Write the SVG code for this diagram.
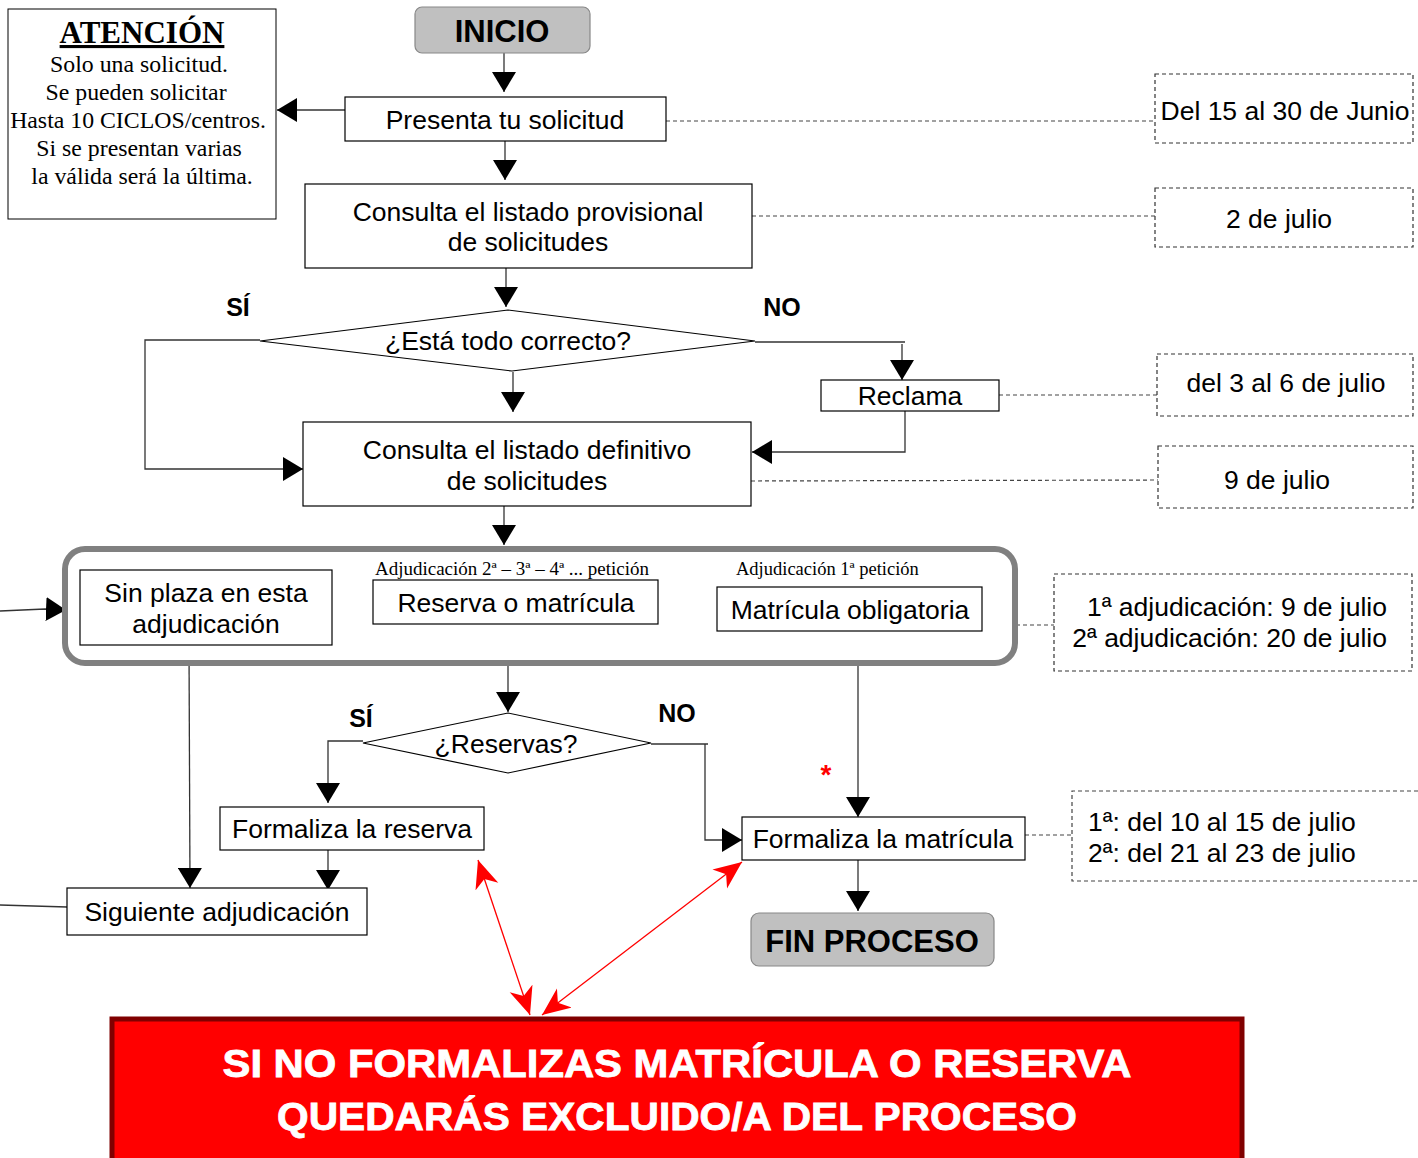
<svg xmlns="http://www.w3.org/2000/svg" width="1418" height="1158" viewBox="0 0 1418 1158">
<style>
.box{fill:#fff;stroke:#000;stroke-width:1.2}
.date{fill:#fff;stroke:#333;stroke-width:1.2;stroke-dasharray:4 3}
.dot{fill:none;stroke:#444;stroke-width:1.2;stroke-dasharray:4 3}
.ln{fill:none;stroke:#333;stroke-width:1.3}
.t{font-family:"Liberation Sans",Arial,sans-serif;font-size:26.5px;fill:#000;text-anchor:middle}
.te{font-family:"Liberation Sans",Arial,sans-serif;font-size:26.5px;fill:#000;text-anchor:end}
.ts{font-family:"Liberation Sans",Arial,sans-serif;font-size:26.5px;fill:#000;text-anchor:start}
.b{font-family:"Liberation Sans",Arial,sans-serif;font-weight:bold;fill:#000;text-anchor:middle}
.s{font-family:"Liberation Serif","Times New Roman",serif;fill:#000}
.red{fill:none;stroke:#ff0000;stroke-width:1.3}
</style>
<defs>
<marker id="ah" markerUnits="userSpaceOnUse" markerWidth="22" markerHeight="24" refX="20" refY="12" orient="auto">
<path d="M0,0 L20,12 L0,24 z" fill="#000"/>
</marker>
<marker id="rh" markerUnits="userSpaceOnUse" markerWidth="30" markerHeight="30" refX="28" refY="12" orient="auto-start-reverse">
<path d="M0,0 L28,12 L0,24 L8,12 z" fill="#ff0000"/>
</marker>
</defs>

<g id="connectors">
<line class="ln" x1="504" y1="53" x2="504" y2="92" marker-end="url(#ah)"/>
<line class="ln" x1="345" y1="110" x2="277" y2="110" marker-end="url(#ah)"/>
<line class="dot" x1="666" y1="121" x2="1155" y2="121"/>
<line class="ln" x1="505" y1="141" x2="505" y2="180" marker-end="url(#ah)"/>
<line class="dot" x1="752" y1="216" x2="1155" y2="216"/>
<line class="ln" x1="506" y1="268" x2="506" y2="307" marker-end="url(#ah)"/>
<polyline class="ln" points="260,340 145,340 145,469 303,469" marker-end="url(#ah)"/>
<polyline class="ln" points="755,342 905,342"/>
<line class="ln" x1="902" y1="344" x2="902" y2="380" marker-end="url(#ah)"/>
<polyline class="ln" points="905,411 905,452 752,452" marker-end="url(#ah)"/>
<line class="dot" x1="999" y1="395" x2="1157" y2="395"/>
<line class="ln" x1="513" y1="372" x2="513" y2="412" marker-end="url(#ah)"/>
<line class="dot" x1="751" y1="481" x2="1158" y2="480"/>
<line class="ln" x1="504" y1="506" x2="504" y2="545" marker-end="url(#ah)"/>
<polyline class="ln" points="0,611 45,609 66,610" marker-end="url(#ah)"/>
<line class="dot" x1="1016" y1="625" x2="1054" y2="625"/>
<line class="ln" x1="508" y1="664" x2="508" y2="712" marker-end="url(#ah)"/>
<polyline class="ln" points="363,741 328,741 328,803" marker-end="url(#ah)"/>
<polyline class="ln" points="651,744 708,744"/>
<polyline class="ln" points="705,744 705,840 742,840" marker-end="url(#ah)"/>
<line class="ln" x1="189" y1="645" x2="190" y2="888" marker-end="url(#ah)"/>
<line class="ln" x1="328" y1="850" x2="328" y2="890" marker-end="url(#ah)"/>
<line class="ln" x1="0" y1="905" x2="67" y2="907"/>
<line class="ln" x1="858" y1="631" x2="858" y2="817" marker-end="url(#ah)"/>
<line class="ln" x1="858" y1="860" x2="858" y2="911" marker-end="url(#ah)"/>
<line class="dot" x1="1025" y1="835" x2="1072" y2="835"/>
<line class="red" x1="478" y1="860" x2="530" y2="1015" marker-start="url(#rh)" marker-end="url(#rh)"/>
<line class="red" x1="742" y1="862" x2="542" y2="1015" marker-start="url(#rh)" marker-end="url(#rh)"/>
</g>

<g id="atencion">
<rect x="8" y="9" width="268" height="210" fill="#fff" stroke="#000" stroke-width="1"/>
<text class="s" x="142" y="43" font-size="31" font-weight="bold" text-anchor="middle" text-decoration="underline">ATENCIÓN</text>
<text class="s" font-size="23.8" text-anchor="middle">
<tspan x="142" y="72">Solo una solicitud.</tspan>
<tspan x="139" y="100">Se pueden solicitar</tspan>
<tspan x="141" y="128">Hasta 10 CICLOS/centros.</tspan>
<tspan x="142" y="156">Si se presentan varias</tspan>
<tspan x="142" y="184">la válida será la última.</tspan>
</text>
</g>

<g id="inicio">
<rect x="415" y="7" width="175" height="46" rx="7" fill="#c0c0c0" stroke="#888" stroke-width="1.2"/>
<text class="b" x="502" y="42" font-size="31">INICIO</text>
</g>

<g id="presenta">
<rect class="box" x="345" y="97" width="321" height="44"/>
<text class="t" x="505" y="129">Presenta tu solicitud</text>
</g>

<g id="fecha1">
<rect class="date" x="1155" y="74" width="258" height="69"/>
<text class="t" x="1285" y="120">Del 15 al 30 de Junio</text>
</g>

<g id="provisional">
<rect class="box" x="305" y="184" width="447" height="84"/>
<text class="t" x="528" y="221">Consulta el listado provisional</text>
<text class="t" x="528" y="251">de solicitudes</text>
</g>

<g id="fecha2">
<rect class="date" x="1155" y="188" width="258" height="59"/>
<text class="t" x="1279" y="228">2 de julio</text>
</g>

<g id="correcto">
<polygon points="260,341 508,310 755,341 512,371" fill="#fff" stroke="#000" stroke-width="1.2"/>
<text class="t" x="508" y="350">¿Está todo correcto?</text>
<text class="b" x="238" y="316" font-size="25">SÍ</text>
<text class="b" x="782" y="316" font-size="25">NO</text>
</g>

<g id="reclama">
<rect class="box" x="821" y="380" width="178" height="31"/>
<text class="t" x="910" y="405">Reclama</text>
</g>

<g id="fecha3">
<rect class="date" x="1157" y="354" width="256" height="62"/>
<text class="t" x="1286" y="392">del 3 al 6 de julio</text>
</g>

<g id="definitivo">
<rect class="box" x="303" y="422" width="448" height="84"/>
<text class="t" x="527" y="459">Consulta el listado definitivo</text>
<text class="t" x="527" y="490">de solicitudes</text>
</g>

<g id="fecha4">
<rect class="date" x="1158" y="446" width="255" height="62"/>
<text class="t" x="1277" y="489">9 de julio</text>
</g>

<g id="adjudicacion">
<rect x="65" y="549" width="950" height="114" rx="20" fill="#fff" stroke="#808080" stroke-width="6"/>
<rect class="box" x="80" y="570" width="252" height="75"/>
<text class="t" x="206" y="602">Sin plaza en esta</text>
<text class="t" x="206" y="633">adjudicación</text>
<text class="s" x="375" y="575" font-size="18.5" textLength="274" lengthAdjust="spacingAndGlyphs">Adjudicación 2ª – 3ª – 4ª  ... petición</text>
<rect class="box" x="373" y="580" width="285" height="44"/>
<text class="t" x="516" y="612">Reserva o matrícula</text>
<text class="s" x="736" y="575" font-size="18.5">Adjudicación 1ª petición</text>
<rect class="box" x="717" y="587" width="265" height="44"/>
<text class="t" x="850" y="619">Matrícula obligatoria</text>
</g>

<g id="fecha5">
<rect class="date" x="1054" y="574" width="358" height="97"/>
<text class="te" x="1387" y="616">1ª adjudicación: 9 de julio</text>
<text class="te" x="1387" y="647">2ª adjudicación: 20 de julio</text>
</g>

<g id="reservas">
<polygon points="363,743 508,713 651,743 508,773" fill="#fff" stroke="#000" stroke-width="1.2"/>
<text class="t" x="506" y="753">¿Reservas?</text>
<text class="b" x="361" y="727" font-size="25">SÍ</text>
<text class="b" x="677" y="722" font-size="25">NO</text>
</g>

<g id="formaliza-reserva">
<rect class="box" x="220" y="807" width="264" height="43"/>
<text class="t" x="352" y="838">Formaliza la reserva</text>
</g>

<g id="siguiente">
<rect class="box" x="67" y="888" width="300" height="47"/>
<text class="t" x="217" y="921">Siguiente adjudicación</text>
</g>

<g id="formaliza-matricula">
<rect class="box" x="742" y="817" width="283" height="43"/>
<text class="t" x="883" y="848">Formaliza la matrícula</text>
<text x="826" y="784" font-family="Liberation Sans,Arial,sans-serif" font-size="28" font-weight="bold" fill="#ff0000" text-anchor="middle">*</text>
</g>

<g id="fecha6">
<path class="dot" d="M1418,791 L1072,791 L1072,881 L1418,881"/>
<text class="ts" x="1088" y="831">1ª: del 10 al 15 de julio</text>
<text class="ts" x="1088" y="862">2ª: del 21 al 23 de julio</text>
</g>

<g id="fin">
<rect x="751" y="913" width="243" height="53" rx="8" fill="#c0c0c0" stroke="#888" stroke-width="1.2"/>
<text class="b" x="872" y="952" font-size="31">FIN PROCESO</text>
</g>

<g id="aviso">
<rect x="112" y="1019" width="1130" height="145" fill="#ff0000" stroke="#800000" stroke-width="5"/>
<text class="b" x="677" y="1077" font-size="38" style="fill:#fff;stroke:#fff;stroke-width:0.8" textLength="909" lengthAdjust="spacingAndGlyphs">SI NO FORMALIZAS MATRÍCULA O RESERVA</text>
<text class="b" x="677" y="1130" font-size="38" style="fill:#fff;stroke:#fff;stroke-width:0.8" textLength="800" lengthAdjust="spacingAndGlyphs">QUEDARÁS EXCLUIDO/A DEL PROCESO</text>
</g>
</svg>
